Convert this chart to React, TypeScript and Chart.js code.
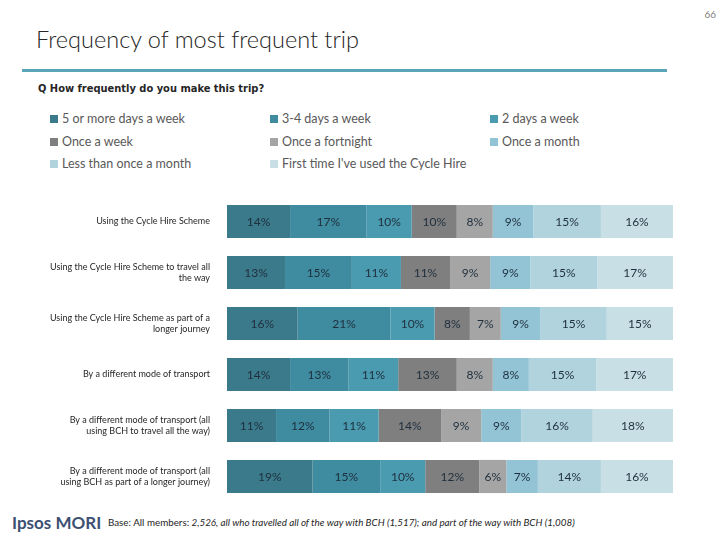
import React, { useEffect, useRef } from "react";
import { Chart, registerables } from "chart.js";
Chart.register(...registerables);

const categories: (string | string[])[] = [
  "Using the Cycle Hire Scheme",
  ["Using the Cycle Hire Scheme to travel all", "the way"],
  ["Using the Cycle Hire Scheme as part of a", "longer journey"],
  "By a different mode of transport",
  ["By a different mode of transport (all", "using BCH to travel all the way)"],
  ["By a different mode of transport (all", "using BCH as part of a longer journey)"],
];

const seriesNames = [
  "5 or more days a week",
  "3-4 days a week",
  "2 days a week",
  "Once a week",
  "Once a fortnight",
  "Once a month",
  "Less than once a month",
  "First time I've used the Cycle Hire",
];

const fiveOrMore = [14, 13, 16, 14, 11, 19];
const threeFour = [17, 15, 21, 13, 12, 15];
const twoDays = [10, 11, 10, 11, 11, 10];
const onceWeek = [10, 11, 8, 13, 14, 12];
const onceFortnight = [8, 9, 7, 8, 9, 6];
const onceMonth = [9, 9, 9, 8, 9, 7];
const lessThanMonth = [15, 15, 15, 15, 16, 14];
const firstTime = [16, 17, 15, 17, 18, 16];

const seriesValues = [fiveOrMore, threeFour, twoDays, onceWeek, onceFortnight, onceMonth, lessThanMonth, firstTime];

const colors = ["#3b7a8b", "#3f8ba0", "#4a9ab0", "#7f7f7f", "#a5a5a5", "#92c4d5", "#b0d3de", "#c8dfe6"];

const FONT = "Lato, 'Open Sans', sans-serif";

export default function App() {
  const ref = useRef<HTMLCanvasElement>(null);
  useEffect(() => {
    if (!ref.current) return;
    const rowSums = categories.map((_, i) => seriesValues.reduce((s, arr) => s + arr[i], 0));
    const labelPlugin = {
      id: "segLabels",
      afterDatasetsDraw(chart: any) {
        const ctx = chart.ctx;
        ctx.save();
        ctx.font = `12px ${FONT}`;
        ctx.fillStyle = "#1f2f3d";
        ctx.textAlign = "center";
        ctx.textBaseline = "middle";
        chart.data.datasets.forEach((ds: any, di: number) => {
          const meta = chart.getDatasetMeta(di);
          meta.data.forEach((bar: any, i: number) => {
            const x = (bar.x + bar.base) / 2;
            ctx.fillText(seriesValues[di][i] + "%", x, bar.y + 1);
          });
        });
        ctx.restore();
      },
    };
    const chart = new Chart(ref.current, {
      type: "bar",
      data: {
        labels: categories,
        datasets: seriesNames.map((name, di) => ({
          label: name,
          data: seriesValues[di].map((v, i) => (v / rowSums[i]) * 100),
          backgroundColor: colors[di],
          borderWidth: 0,
          barPercentage: 1,
          categoryPercentage: 0.65,
        })),
      },
      options: {
        indexAxis: "y",
        animation: false,
        responsive: false,
        maintainAspectRatio: false,
        layout: { padding: { left: 0, right: 47, top: 0, bottom: 0 } },
        plugins: { legend: { display: false }, tooltip: { enabled: false } },
        scales: {
          x: { stacked: true, min: 0, max: 100, display: false },
          y: {
            stacked: true,
            grid: { display: false, drawTicks: false },
            border: { display: false },
            ticks: {
              color: "#262626",
              font: { family: FONT, size: 9 },
              padding: 17,
            },
            afterFit(scale: any) {
              scale.width = 227;
              scale.paddingTop = 0;
              scale.paddingBottom = 0;
            },
          },
        },
      },
      plugins: [labelPlugin],
    } as any);
    return () => chart.destroy();
  }, []);

  const legendPos = [
    [50, 119], [270, 119], [490, 119],
    [50, 142], [270, 142], [490, 142],
    [50, 164], [270, 164],
  ];

  return (
    <div style={{ position: "fixed", left: 0, top: 0, width: 720, height: 540, background: "#fff", overflow: "hidden", fontFamily: FONT }}>
      <div style={{ position: "absolute", right: 4, top: 8, fontSize: 10, color: "#7f7f7f" }}>66</div>
      <div style={{ position: "absolute", left: 36, top: 25, fontSize: 23.5, color: "#262626", fontWeight: 300 }}>Frequency of most frequent trip</div>
      <div style={{ position: "absolute", left: 22, top: 69, width: 645, height: 3, background: "#5ba5b8" }} />
      <div style={{ position: "absolute", left: 38, top: 82, fontSize: 11, color: "#262626", fontFamily: "'Liberation Sans Narrow', 'DejaVu Sans Condensed', sans-serif", fontWeight: 700 }}>Q How frequently do you make this trip?</div>
      {seriesNames.map((n, i) => (
        <div key={n} style={{ position: "absolute", left: legendPos[i][0], top: legendPos[i][1] - 8, fontSize: 12.5, color: "#595959", display: "flex", alignItems: "center", whiteSpace: "nowrap" }}>
          <span style={{ display: "inline-block", width: 8, height: 8, background: colors[i], marginRight: 4 }} />
          {n}
        </div>
      ))}
      <canvas ref={ref} width={720} height={306} style={{ position: "absolute", left: 0, top: 196, width: 720, height: 306 }} />
      <div style={{ position: "absolute", left: 12, top: 512, fontSize: 17, fontWeight: 700, color: "#3d4f72" }}>Ipsos MORI</div>
      <div style={{ position: "absolute", left: 108, top: 516, fontSize: 9.8, color: "#262626", whiteSpace: "nowrap" }}>
        Base: All members: <i>2,526, all who travelled all of the way with BCH (1,517); and part of the way with BCH (1,008)</i>
      </div>
    </div>
  );
}
